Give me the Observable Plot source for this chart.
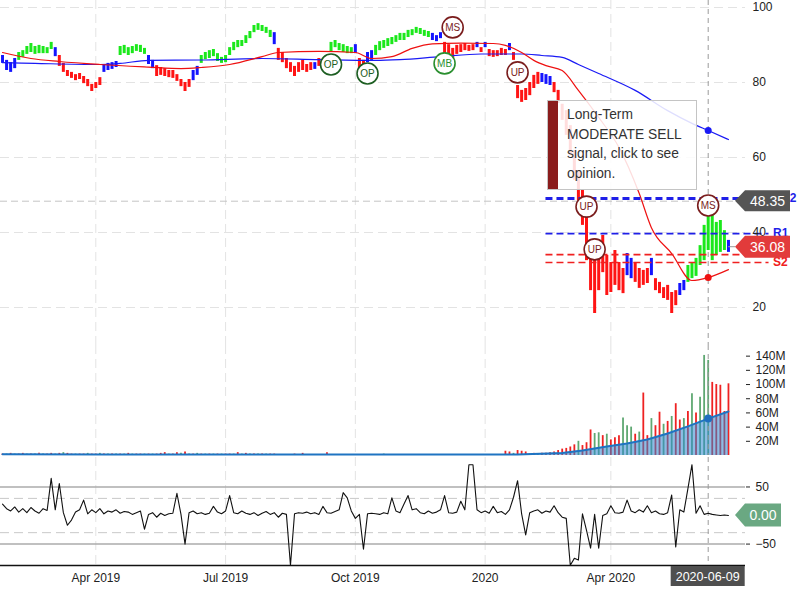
<!DOCTYPE html>
<html><head><meta charset="utf-8">
<script src="https://cdn.jsdelivr.net/npm/d3@7"></script>
<script src="https://cdn.jsdelivr.net/npm/@observablehq/plot@0.6"></script>
<style>
body{margin:0;background:#fff;font-family:"Liberation Sans",Arial,sans-serif;}
#chart{position:relative;width:800px;height:600px;overflow:hidden;background:#fff;}
#chart svg{display:block;}
.tip{position:absolute;left:547px;top:100px;width:150px;height:90px;box-sizing:border-box;background:rgba(255,255,255,0.86);border:1px solid #c4c4c4;font-size:13.8px;line-height:19.6px;color:#333;padding:4px 0 0 19px;white-space:nowrap;}
.tip .bar{position:absolute;left:0;top:0;bottom:0;width:10px;background:#8a1c1c;}
</style></head><body><div id="chart"></div>
<script>
// ---------------- data ----------------
const priceHi = [87.2,85.9,85.3,86.4,88.0,88.5,89.6,90.4,89.6,89.9,
89.6,89.3,90.7,89.3,87.2,85.1,83.2,82.7,82.1,82.4,
81.6,80.8,79.5,80.0,81.3,84.8,85.1,85.3,85.6,89.6,
89.9,89.3,89.6,90.1,89.9,89.1,87.2,85.9,84.5,84.0,
83.7,83.2,83.2,82.1,80.8,80.0,80.8,83.2,84.3,87.2,
88.0,88.5,88.8,87.7,86.7,87.2,89.3,90.7,91.2,91.2,
92.5,93.6,95.2,95.7,95.2,94.7,93.9,93.3,89.1,88.0,
86.4,85.3,84.3,85.3,85.9,84.8,85.3,85.3,86.4,85.9,
85.9,90.7,91.2,90.4,90.1,89.6,89.3,90.1,86.4,85.9,
88.0,88.5,89.9,90.9,91.2,91.7,92.0,92.5,93.1,93.1,
93.9,94.1,94.7,94.4,93.9,93.6,93.1,92.5,93.3,90.7,
90.1,89.1,89.9,90.1,90.4,89.9,90.1,90.7,89.3,90.7,
88.8,88.5,88.5,89.1,88.8,90.4,88.0,79.2,77.9,78.4,
80.0,81.9,82.7,82.4,82.1,81.6,80.0,77.9,74.2,72.5,
68.5,61.9,56.5,51.2,45.9,37.9,35.2,35.2,39.2,33.9,
32.0,35.2,32.0,30.4,34.4,33.1,32.0,30.4,29.9,30.4,
33.1,27.7,26.7,25.3,25.9,24.0,24.5,26.4,27.2,31.2,
32.0,33.1,36.5,41.9,46.4,45.3,42.7,43.2,40.5,37.9];
const priceLo = [85.1,83.2,82.7,83.7,85.9,86.7,87.5,88.0,87.5,87.7,
87.7,87.7,88.8,86.9,84.3,82.7,81.6,81.1,80.5,80.8,
79.7,78.9,77.6,78.4,79.2,82.7,83.2,83.5,84.0,87.2,
87.7,87.2,87.7,88.3,88.0,87.5,84.8,83.7,81.6,81.9,
81.6,81.3,81.1,80.3,78.9,77.6,78.7,80.5,81.9,85.1,
86.1,86.4,86.9,85.6,85.1,85.3,87.2,88.5,89.3,89.6,
90.4,91.7,93.3,93.9,93.6,93.1,92.0,90.1,85.9,85.3,
83.7,82.7,81.6,82.7,83.2,82.7,83.2,83.5,84.3,83.7,
84.3,88.0,89.3,88.5,88.0,87.7,87.7,87.7,83.2,83.2,
85.3,85.9,87.2,88.5,89.1,89.6,90.1,90.7,91.2,91.2,
92.0,92.5,93.1,92.8,92.3,92.0,91.2,90.9,91.7,87.5,
86.9,86.4,87.5,88.0,88.5,88.3,88.5,89.3,88.0,89.3,
86.9,86.7,86.9,87.2,87.2,88.5,85.9,75.7,74.7,75.2,
76.5,78.4,79.5,80.0,79.5,79.2,77.3,74.4,69.9,65.9,
60.5,53.9,48.5,41.9,32.5,24.5,18.4,24.5,29.3,23.2,
24.0,25.9,24.5,23.7,28.5,27.7,26.7,25.1,25.9,26.4,
28.5,24.5,23.7,22.4,21.9,18.4,20.5,23.2,24.5,26.7,
27.7,28.3,31.2,32.5,35.2,32.5,33.9,34.7,35.2,34.7];
// trend colour of each bar, as runs: [class, count]
const priceColorRuns = [["b",4],["g",9],["b",1],["r",11],["b",4],["g",7],["b",2],["r",9],["b",2],["g",18],["b",1],["r",9],["b",1],["r",3],["g",6],["b",1],["r",2],["b",2],["g",14],["b",3],["r",8],["b",1],["r",1],["b",1],["r",5],["b",1],["r",7],["b",3],["r",18],["b",2],["r",4],["b",1],["r",6],["b",2],["g",10],["b",1]];

const redMAIdx = [0,7,14,24,36,44,49,56,64,68,78,87,91,96,101,106,113,121,124,128,131,134,138,142,147,152,157,160,165,170,174,179];
const redMAVal = [88.0,86.4,85.6,84.8,84.1,83.7,84.0,84.8,86.9,88.0,88.3,88.0,86.4,86.9,89.1,90.3,90.5,90.4,89.9,88.0,85.9,84.5,83.2,77.9,70.7,62.7,50.4,41.3,34.4,27.2,28.0,30.1];
const blueMAIdx = [0,8,24,29,36,49,64,78,92,98,108,118,128,133,138,142,147,156,164,170,174,179];
const blueMAVal = [85.3,85.1,84.8,85.1,85.9,86.0,86.4,86.1,85.9,86.1,86.9,87.6,87.6,87.2,86.7,84.8,82.4,77.9,72.5,69.1,67.2,64.8];

const volume = [2,2,3,2,2,3,2,2,2,3,
2,2,3,2,3,4,3,2,2,2,
2,3,2,2,3,2,2,2,2,2,
2,3,2,2,2,2,2,2,2,3,
4,2,2,4,3,5,2,2,3,2,
2,2,2,2,2,2,2,2,4,2,
3,2,2,2,2,2,2,2,1,1,
1,1,2,1,3,1,1,1,1,1,
4,1,1,1,1,1,1,1,1,1,
1,1,1,1,2,1,1,1,1,1,
1,1,1,1,1,1,1,1,1,1,
1,1,1,1,1,1,1,1,1,1,
1,1,1,1,6,5,3,7,6,5,
2,3,2,3,3,4,5,7,9,10,
12,15,20,14,18,36,31,32,28,30,
22,25,28,53,42,40,30,33,88,28,
52,42,61,44,48,55,73,50,52,62,
87,60,82,141,134,103,100,99,62,101];
const volColorRows = ["rgrgrrgrgr","grrgrgrrgr","rgrrgrgrgr","grgrrgrgrr","rgrrgrgrgr","grgrgrrgrg",
"rgrgrgrrgr","grrgrgrgrr","rgrgrrgrgr","grgrgrrgrg","rgrgrgrgrr","grgrrgrgrg",
"rgrrrrgrrr","grgrrrrrrr","rrgrrrggrg","rrrgggrgrr","grrgrgrrgr","grgggrrrrr"];
const volMAIdx = [0,26,127,138,143,149,154,159,164,169,174,179];
const volMAVal = [1.8,1.5,1.5,3.5,7,12.6,17,22.5,31,41,52,62];

const oscValues = [20,12,8,15,6,12,5,14,8,4,
12,9,65,10,56,5,-17,-8,6,10,
27,3,10,5,12,3,8,6,10,4,
7,6,2,5,8,-24,2,5,-3,4,
0,3,4,39,2,-50,5,8,3,5,
2,4,16,6,3,8,35,5,3,8,
4,2,5,0,4,7,2,5,-3,4,
2,-87,3,5,4,6,3,5,2,16,
5,4,7,10,40,31,8,-5,2,-59,
3,4,3,2,5,3,31,8,5,20,
35,10,12,5,3,8,4,6,10,35,
5,4,6,25,10,89,89,10,5,8,
4,16,5,7,2,10,32,61,3,-34,
5,8,10,4,8,6,17,5,-3,-5,
-87,-75,-78,3,-26,-57,2,-57,0,3,
17,5,4,6,27,8,5,10,6,17,
5,8,3,2,5,36,-55,10,6,47,
89,4,17,2,4,2,1,0,1,0];

const tickIdx = [23,55,87,119,150];
const tickLabels = ["Apr 2019","Jul 2019","Oct 2019","2020","Apr 2020"];
const priceTicks = [20,40,60,80,100];
const volTicks = [20,40,60,80,100,120,140];
const oscLevels = [50,-50];
const oscBands = [30,-30];

const crossIdx = 174, crossDate = "2020-06-09", crossPrice = 48.35, lastPrice = 36.08, oscLast = 0;
const crossRedMA = 28.0, crossBlueMA = 67.2, crossVolMA = 52;

const levelNames = ["R2","R1","S1","S2"];
const levelValues = [49.1,39.7,34.1,32.0];
const levelColors = ["#1f1fe8","#1f1fe8","#f02020","#f02020"];
const levelWidths = [3,1.6,1.6,1.6];
const levelStart = [134,134,134,134];
const levelEnd = [194,189,189,189];
const levelLabelIdx = [191,189,189,189];

const signalIdx = [81,90,109,111,127,144,146,174];
const signalPrice = [84.8,82.4,85.1,94.7,82.7,46.9,35.5,47.2];
const signalLabel = ["OP","OP","MB","MS","UP","UP","UP","MS"];
const signalColor = {OP:"#1d5e22", MB:"#2a8f2f", MS:"#7a1d1d", UP:"#7a1d1d"};

// ---------------- build ----------------
const priceColor = {r:"#ff1414", g:"#1be81b", b:"#1414ff"};
const volColor = {r:"#ee2222", g:"#5fa872"};
const classes = priceColorRuns.flatMap(([c,n]) => Array(n).fill(c));
const volClasses = volColorRows.join("").split("");
const bars = priceHi.map((h,i) => ({i, hi:h, lo:priceLo[i], col:priceColor[classes[i]]}));
const vols = volume.map((v,i) => ({i, v, col:volColor[volClasses[i]]}));
const oscRows = oscValues.map((v,i) => ({i, v}));
const redMA = redMAIdx.map((i,k) => ({i, v:redMAVal[k]}));
const blueMA = blueMAIdx.map((i,k) => ({i, v:blueMAVal[k]}));
const volMA = volMAIdx.map((i,k) => ({i, v:volMAVal[k]}));
const levels = levelNames.map((n,k) => ({n, v:levelValues[k], c:levelColors[k], w:levelWidths[k], s:levelStart[k], e:levelEnd[k], li:levelLabelIdx[k]}));
const signals = signalIdx.map((i,k) => ({i, p:signalPrice[k], t:signalLabel[k], c:signalColor[signalLabel[k]]}));

const xDomain = [-0.5, 183.2];
const font = '"Liberation Sans", Arial, sans-serif';
const baseStyle = {fontFamily:font, fontSize:"12px", color:"#222", background:"transparent"};
const grid = {stroke:"#e3e3e3", strokeDasharray:"9,5"};
const cross = {stroke:"#9a9a9a", strokeDasharray:"5,4"};

const price = Plot.plot({
  width:800, height:345, marginTop:0, marginBottom:0, marginLeft:0, marginRight:55,
  style:baseStyle,
  x:{type:"linear", domain:xDomain, axis:null},
  y:{domain:[9.87,101.87], label:null},
  color:{type:"identity"},
  marks:[
    Plot.ruleX(tickIdx, grid),
    Plot.ruleY(priceTicks, grid),
    Plot.ruleY([crossPrice], {stroke:"#c4c4c4", strokeDasharray:"7,4"}),
    Plot.ruleX([crossIdx], cross),
    Plot.ruleX(bars, {x:"i", y1:"lo", y2:"hi", stroke:"col", strokeWidth:3}),
    Plot.line(blueMA, {x:"i", y:"v", stroke:"#1a1af5", strokeWidth:1.2, curve:"monotone-x"}),
    Plot.line(redMA, {x:"i", y:"v", stroke:"#ee1111", strokeWidth:1.2, curve:"monotone-x"}),
    Plot.ruleY(levels, {y:"v", x1:"s", x2:"e", stroke:"c", strokeWidth:"w", strokeDasharray:"7,4"}),
    Plot.dot([{i:crossIdx, v:crossBlueMA}], {x:"i", y:"v", r:3.5, fill:"#1a1af5"}),
    Plot.dot([{i:crossIdx, v:crossRedMA}], {x:"i", y:"v", r:3.5, fill:"#ee1111"}),
    Plot.dot(signals, {x:"i", y:"p", r:10.5, fill:"white", stroke:"c", strokeWidth:1.6}),
    Plot.text(signals, {x:"i", y:"p", text:"t", fill:"c", fontSize:10}),
    Plot.text(levels, {x:"li", y:"v", text:"n", fill:"c", fontWeight:"bold", fontSize:12, textAnchor:"start", dx:4}),
    Plot.axisY(priceTicks, {anchor:"right", tickSize:0, tickPadding:7, label:null, fontSize:12})
  ]
});

const vol = Plot.plot({
  width:800, height:112, marginTop:0, marginBottom:2, marginLeft:0, marginRight:55,
  style:baseStyle,
  x:{type:"linear", domain:xDomain, axis:null},
  y:{domain:[0,155], label:null},
  color:{type:"identity"},
  marks:[
    Plot.ruleX(tickIdx, grid),
    Plot.ruleX(vols, {x:"i", y1:0, y2:"v", stroke:"col", strokeWidth:1.8}),
    Plot.areaY(volMA, {x:"i", y:"v", fill:"#2f86cf", fillOpacity:0.55}),
    Plot.line(volMA, {x:"i", y:"v", stroke:"#1f74c2", strokeWidth:2}),
    Plot.ruleX([crossIdx], cross),
    Plot.dot([{i:crossIdx, v:crossVolMA}], {x:"i", y:"v", r:4, fill:"#1f6fbf"}),
    Plot.axisY(volTicks, {anchor:"right", tickSize:4, tickPadding:6, label:null, fontSize:12, tickFormat:d => d + "M"})
  ]
});

const oscMin = -87.5;
const osc = Plot.plot({
  width:800, height:143, marginTop:0, marginBottom:35, marginLeft:0, marginRight:55,
  style:baseStyle,
  x:{type:"linear", domain:xDomain},
  y:{domain:[oscMin,101.6], label:null},
  marks:[
    Plot.ruleX(tickIdx, grid),
    Plot.ruleY(oscBands, {stroke:"#c9c9c9", strokeDasharray:"9,5"}),
    Plot.ruleY(oscLevels, {stroke:"#ababab", strokeWidth:1.5}),
    Plot.ruleX([crossIdx], cross),
    Plot.line(oscRows, {x:"i", y:"v", stroke:"#111", strokeWidth:1.1}),
    Plot.ruleY([oscMin], {stroke:"#111", strokeWidth:1.5}),
    Plot.axisY(oscLevels, {anchor:"right", tickSize:4, tickPadding:6, label:null, fontSize:12}),
    Plot.axisX(tickIdx, {anchor:"bottom", tickSize:0, tickPadding:8, label:null, fontSize:12,
      tickFormat:d => tickLabels[tickIdx.indexOf(d)]})
  ]
});

const chart = document.getElementById("chart");
chart.append(price, vol, osc);

// value tags drawn with the plots' own scales
function arrowTag(svg, yc, fill, text, x1, h) {
  const x0 = 735;
  const g = d3.select(svg).append("g");
  g.append("path")
    .attr("d", `M${x0},${yc}L${x0+10},${yc-h/2}H${x1}V${yc+h/2}H${x0+10}Z`)
    .attr("fill", fill);
  g.append("text").attr("x", (x0+10+x1)/2).attr("y", yc).attr("dy", "0.36em")
    .attr("text-anchor", "middle").attr("fill", "#fff")
    .attr("font-family", font).attr("font-size", 14).text(text);
}
const px = price.scale("x"), py = price.scale("y");
d3.select(price).append("line")
  .attr("x1", px.apply(179)).attr("x2", 735)
  .attr("y1", py.apply(lastPrice)).attr("y2", py.apply(lastPrice))
  .attr("stroke", "#999");
arrowTag(price, py.apply(crossPrice), "#555555", crossPrice.toFixed(2), 790, 21);
arrowTag(price, py.apply(lastPrice), "#e23b3b", lastPrice.toFixed(2), 790, 22);

const oy = osc.scale("y"), ox = osc.scale("x");
arrowTag(osc, oy.apply(oscLast), "#6aa882", oscLast.toFixed(2), 781, 23);
const cx = ox.apply(crossIdx), by = oy.apply(oscMin);
const dg = d3.select(osc).append("g");
dg.append("rect").attr("x", cx-37).attr("y", by+1).attr("width", 74).attr("height", 20).attr("fill", "#4f4f4f");
dg.append("text").attr("x", cx).attr("y", by+11).attr("dy", "0.36em").attr("text-anchor", "middle")
  .attr("fill", "#fff").attr("font-family", font).attr("font-size", 12.5).text(crossDate);

// tooltip
const tip = document.createElement("div");
tip.className = "tip";
tip.innerHTML = '<div class="bar"></div>Long-Term<br>MODERATE SELL<br>signal, click to see<br>opinion.';
chart.append(tip);
</script></body></html>
